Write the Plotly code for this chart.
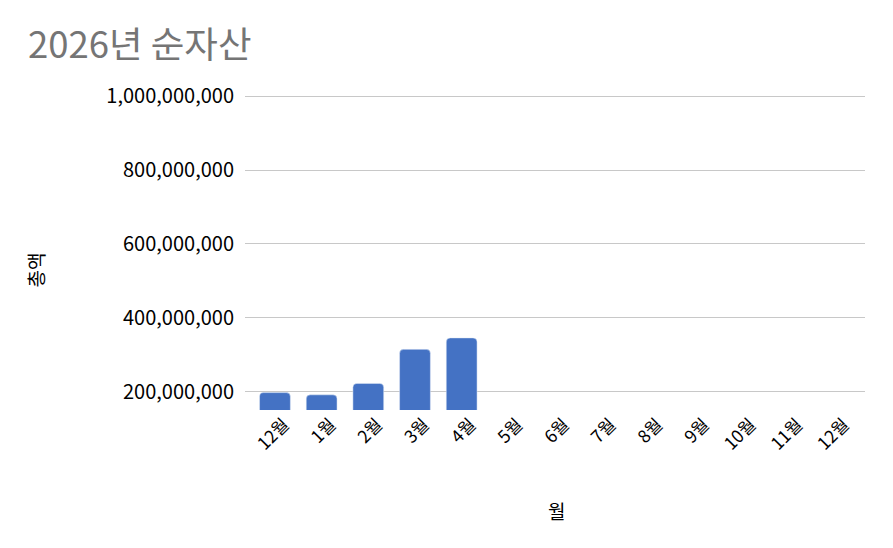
import plotly.graph_objects as go

months = ["12월", "1월", "2월", "3월", "4월", "5월", "6월", "7월", "8월", "9월", "10월", "11월", "12월"]
values = [198000000, 192000000, 223000000, 315000000, 346000000, None, None, None, None, None, None, None, None]
y_ticks = [200000000, 400000000, 600000000, 800000000, 1000000000]

positions = list(range(len(months)))
FONT = "Noto Sans CJK KR, Noto Sans, sans-serif"

fig = go.Figure(go.Bar(
    x=positions, y=values,
    marker=dict(color="#4472C4", cornerradius=4),
    width=0.66,
))

fig.update_layout(
    width=885, height=540,
    margin=dict(l=237, r=28, t=84, b=138, autoexpand=False),
    paper_bgcolor="white", plot_bgcolor="white",
    font=dict(family=FONT, color="#000000"),
    title=dict(text="2026년 순자산", x=0.0226, xanchor="left", y=0.931, yanchor="middle",
               font=dict(size=36.5, color="#757575", family=FONT)),
    showlegend=False,
    xaxis=dict(
        tickmode="array", tickvals=positions, ticktext=months,
        range=[-0.642, len(months) - 1 + 0.642],
        tickangle=-45, tickfont=dict(size=17.5),
        showgrid=False, zeroline=False, showline=False, ticks="",
        ticklabelshift=9,
        automargin=False,
    ),
    yaxis=dict(
        range=[151000000, 1011000000],
        tickmode="array", tickvals=y_ticks, tickformat=",d",
        tickfont=dict(size=20),
        showgrid=True, gridcolor="#C8C8C8", gridwidth=1,
        zeroline=False, showline=False, ticks="outside", ticklen=6, tickcolor="rgba(0,0,0,0)",
        automargin=False,
    ),
    annotations=[
        dict(text="월", xref="paper", yref="paper", x=0.502, y=-0.315, xanchor="center", yanchor="middle",
             showarrow=False, font=dict(size=19)),
        dict(text="총액", xref="paper", yref="paper", x=-0.338, y=0.44, xanchor="center", yanchor="middle",
             textangle=-90, showarrow=False, font=dict(size=19)),
    ],
)

fig.write_html("out.html")
